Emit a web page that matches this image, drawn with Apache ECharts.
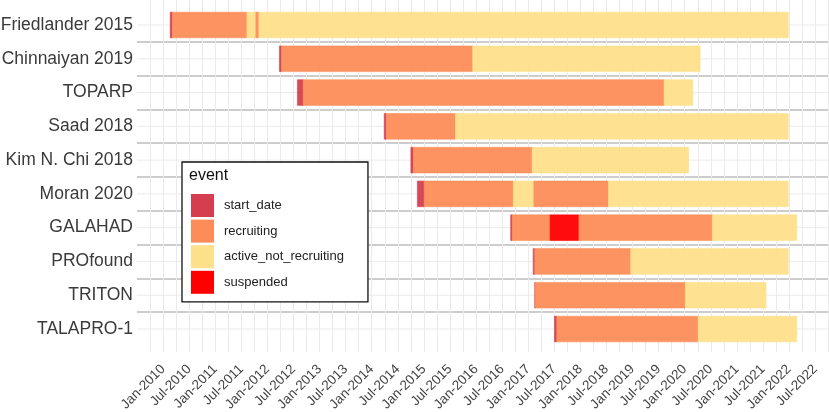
<!DOCTYPE html>
<html>
<head>
<meta charset="utf-8">
<script src="https://cdn.jsdelivr.net/npm/echarts@6/dist/echarts.min.js"></script>
<style>html,body{margin:0;padding:0;background:#fff;}#c{width:829px;height:412px;}</style>
</head>
<body>
<div id="c"></div>
<script>
// ---- data ----
const trials = ['Friedlander 2015','Chinnaiyan 2019','TOPARP','Saad 2018','Kim N. Chi 2018','Moran 2020','GALAHAD','PROfound','TRITON','TALAPRO-1'];
const events = ['start_date','recruiting','active_not_recruiting','suspended'];
const eventColors = ['#D53E4F','#FC8D59','#FEE08B','#FF0000'];
const monthNames = ['Jan','Feb','Mar','Apr','May','Jun','Jul','Aug','Sep','Oct','Nov','Dec'];

const friedlander2015 = [['start_date','2010-02-19','2010-03-05'],['recruiting','2010-03-05','2011-08-10'],['active_not_recruiting','2011-08-10','2011-10-07'],['recruiting','2011-10-07','2011-11-02'],['active_not_recruiting','2011-11-02','2021-12-27']];
const chinnaiyan2019 = [['start_date','2012-03-25','2012-04-08'],['recruiting','2012-04-08','2015-12-08'],['active_not_recruiting','2015-12-08','2020-04-17']];
const toparp = [['start_date','2012-07-29','2012-09-08'],['recruiting','2012-09-08','2019-08-09'],['active_not_recruiting','2019-08-09','2020-02-26']];
const saad2018 = [['start_date','2014-03-28','2014-04-11'],['recruiting','2014-04-11','2015-08-09'],['active_not_recruiting','2015-08-09','2021-12-27']];
const kimNChi2018 = [['start_date','2014-10-01','2014-10-19'],['recruiting','2014-10-19','2017-01-29'],['active_not_recruiting','2017-01-29','2020-01-29']];
const moran2020 = [['start_date','2014-11-16','2015-01-02'],['recruiting','2015-01-02','2016-09-18'],['active_not_recruiting','2016-09-18','2017-02-05'],['recruiting','2017-02-05','2018-07-15'],['active_not_recruiting','2018-07-15','2021-12-27']];
const galahad = [['start_date','2016-08-31','2016-09-11'],['recruiting','2016-09-11','2017-06-02'],['suspended','2017-06-02','2017-12-17'],['recruiting','2017-12-17','2020-07-12'],['active_not_recruiting','2020-07-12','2022-02-23']];
const profound = [['start_date','2017-02-05','2017-02-15'],['recruiting','2017-02-15','2018-12-19'],['active_not_recruiting','2018-12-19','2021-12-27']];
const triton = [['start_date','2017-02-15','2017-02-18'],['recruiting','2017-02-18','2020-01-05'],['active_not_recruiting','2020-01-05','2021-07-23']];
const talapro1 = [['start_date','2017-07-02','2017-07-19'],['recruiting','2017-07-19','2020-04-04'],['active_not_recruiting','2020-04-04','2022-02-23']];

const trialEvents = [friedlander2015, chinnaiyan2019, toparp, saad2018, kimNChi2018, moran2020, galahad, profound, triton, talapro1];

// months since Jan 2010 (fractional)
function toMonths(s){
  const [y,m,d] = s.split('-').map(Number);
  const dim = new Date(y, m, 0).getDate();
  return (y-2010)*12 + (m-1) + (d-1)/dim;
}

const FONT = "'Liberation Sans', Arial, Helvetica, sans-serif";

const barSeries = events.map((ev, k) => {
  const data = [];
  trialEvents.forEach((list, ti) => {
    list.forEach(seg => { if (seg[0] === ev) data.push([ti, toMonths(seg[1]), toMonths(seg[2])]); });
  });
  return {
    name: ev, type: 'custom', xAxisIndex: 1, yAxisIndex: 1, z: 3,
    itemStyle: { color: eventColors[k] },
    encode: { x: [1,2], y: 0 },
    renderItem: function(params, api){
      const c = api.value(0);
      const p0 = api.coord([api.value(1), c]);
      const p1 = api.coord([api.value(2), c]);
      const h = api.size([0,1])[1]*0.76;
      return { type:'rect', shape:{x:p0[0], y:p0[1]-h/2, width:Math.max(p1[0]-p0[0],0.6), height:h},
        style:{ fill: eventColors[k], stroke: eventColors[k], lineWidth: 0.6, opacity: 0.95 } };
    },
    data: data
  };
});

const rowGrid = {
  name: 'rowgrid', type: 'custom', xAxisIndex: 1, yAxisIndex: 1, z: 1, silent: true,
  renderItem: function(params, api){
    const y = api.coord([0, api.value(0)])[1];
    const cs = params.coordSys;
    return { type:'line', shape:{x1:cs.x, y1:y, x2:cs.x+cs.width, y2:y}, style:{stroke:'#EBEBEB', lineWidth:1} };
  },
  encode: { y: 0 },
  data: trials.map((t,i)=>[i])
};

const chart = echarts.init(document.getElementById('c'));
chart.setOption({
  animation: false,
  backgroundColor: '#fff',
  title: { text: 'event', left: 189, top: 168, padding: 0, z: 10,
    textStyle: { fontFamily: FONT, fontSize: 16, fontWeight: 'normal', color: '#111' } },
  legend: {
    data: events, orient: 'vertical', left: 182, top: 162,
    padding: [32, 24, 8, 9], itemGap: 2.6, itemWidth: 23, itemHeight: 23,
    icon: 'rect', backgroundColor: '#fff', borderColor: '#111', borderWidth: 1.3,
    textStyle: { fontFamily: FONT, fontSize: 13, color: '#222', padding: [0,0,0,5] },
    selectedMode: false
  },
  grid: [
    { left: 137, width: 704.2, top: 0, height: 352, containLabel: false, outerBoundsMode: 'none' },
    { left: 137, width: 704.2, top: 8.1, height: 337.8, containLabel: false, outerBoundsMode: 'none' }
  ],
  xAxis: [
    { type: 'value', gridIndex: 0, min: -6, max: 156, interval: 6,
      axisLine: { show: false }, axisTick: { show: false },
      axisLabel: { rotate: 45, margin: 15, showMinLabel: false, showMaxLabel: false,
        fontFamily: FONT, fontSize: 13.5, color: '#444',
        formatter: v => monthNames[((v%12)+12)%12] + '-' + (2010 + Math.floor(v/12)) },
      splitLine: { show: true, showMinLine: false, showMaxLine: false, lineStyle: { color: '#EBEBEB', width: 1 } },
      minorTick: { show: false, splitNumber: 2 },
      minorSplitLine: { show: true, lineStyle: { color: '#EBEBEB', width: 1 } }
    },
    { type: 'value', gridIndex: 1, min: -6, max: 156, show: false }
  ],
  yAxis: [
    { type: 'value', gridIndex: 0, show: false, splitLine: { show: false } },
    { type: 'category', gridIndex: 1, data: trials, inverse: true,
      axisLine: { show: false }, axisTick: { show: false },
      axisLabel: { fontFamily: FONT, fontSize: 17.5, color: '#3a3a3a', margin: 4 },
      splitLine: { show: true, showMinLine: false, showMaxLine: false, lineStyle: { color: '#BDBDBD', width: 1.6 } }
    }
  ],
  series: [rowGrid].concat(barSeries)
});
</script>
</body>
</html>
